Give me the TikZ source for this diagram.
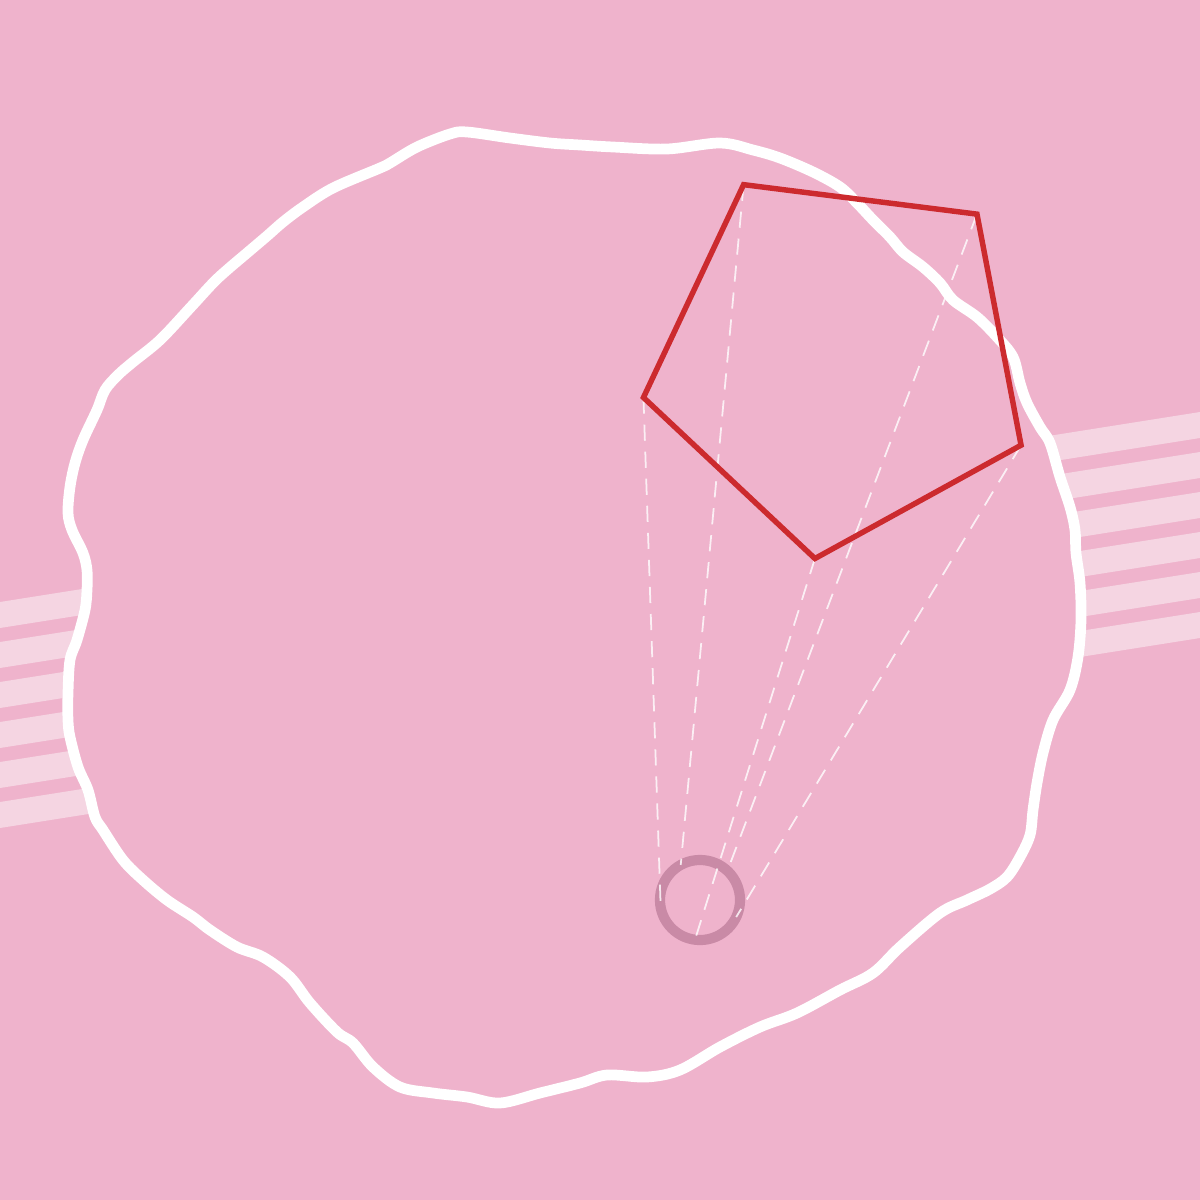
\documentclass[tikz,border=0pt]{standalone}
\usepackage{tikz}
\usetikzlibrary{calc}
\definecolor{bgpink}{HTML}{EFB3CC}
\definecolor{stripepink}{HTML}{F5D5E2}
\definecolor{ringpink}{HTML}{C98AA6}
\definecolor{penred}{HTML}{CC2A2E}

\begin{document}
\begin{tikzpicture}[
  x=0.01cm,y=-0.01cm,
  stripe/.style={fill=stripepink},
  blobline/.style={draw=white,fill=bgpink,line width=3.05pt,line join=round},
  ring/.style={draw=ringpink,line width=2.9pt},
  penline/.style={draw=penred,line width=1.55pt,line join=miter},
  projline/.style={white,opacity=0.8,line width=0.5pt,dash pattern=on 4.6pt off 3.1pt},
]

% Background
\fill[bgpink] (0,0) rectangle (1200,1200);
\useasboundingbox (0,0) rectangle (1200,1200);

% Stripes
\foreach \k in {0,...,5}
  \fill[stripe] (0,{602+40*\k}) -- (1200,{412+40*\k}) -- (1200,{438+40*\k}) -- (0,{628+40*\k}) -- cycle;

% Wavy blob
\draw[blobline] plot[smooth cycle,tension=0.55] coordinates {
  (467,132) (510,138) (550,143) (580,145) (613,147) (667,149) (720,143)
  (753,150) (780,158) (813,172) (840,187) (857,203) (873,220) (890,237)
  (903,252) (923,267) (940,283) (953,300) (977,317) (997,337) (1013,357)
  (1020,383) (1027,403) (1040,427) (1050,443) (1060,477) (1070,507)
  (1075,530) (1076,553) (1080,583) (1081,620) (1078,657) (1070,690)
  (1053,720) (1043,753) (1037,783) (1033,810) (1030,835) (1020,857)
  (1007,877) (990,889) (967,900) (940,913) (900,947) (873,973) (840,990)
  (797,1013) (760,1027) (720,1047) (680,1070) (647,1077) (607,1075)
  (580,1083) (540,1093) (500,1103) (467,1097) (433,1093) (400,1087)
  (373,1067) (353,1043) (337,1032) (310,1003) (290,977) (263,957)
  (237,947) (210,930) (193,917) (167,900) (143,880) (123,860) (103,830)
  (95,817) (88,790) (78,767) (70,737) (68,720) (68,693) (70,660) (77,640)
  (85,610) (87,590) (87,570) (83,553) (72,530) (68,513) (70,487) (75,463)
  (83,440) (97,410) (105,390) (118,375) (133,362) (160,340) (190,308)
  (213,283) (227,270) (247,253) (267,236) (283,222) (303,207) (333,188)
  (380,168) (390,163) (417,147) (450,134)};

% Pentagon and its image on the small ring
\coordinate (pc) at (840,360);
\coordinate (sc) at (700,900);
\foreach \i in {1,...,5} {
  \coordinate (P\i) at ($(pc)+({46.8+72*(\i-1)}:2cm)$);
  \coordinate (S\i) at ($(sc)+({46.8+72*(\i-1)}:0.4cm)$);
}

\draw[ring] (sc) circle[radius=0.4cm];

\foreach \i in {1,...,5}
  \draw[projline] (P\i) -- (S\i);

\draw[penline] (P1) -- (P2) -- (P3) -- (P4) -- (P5) -- cycle;

\end{tikzpicture}
\end{document}
